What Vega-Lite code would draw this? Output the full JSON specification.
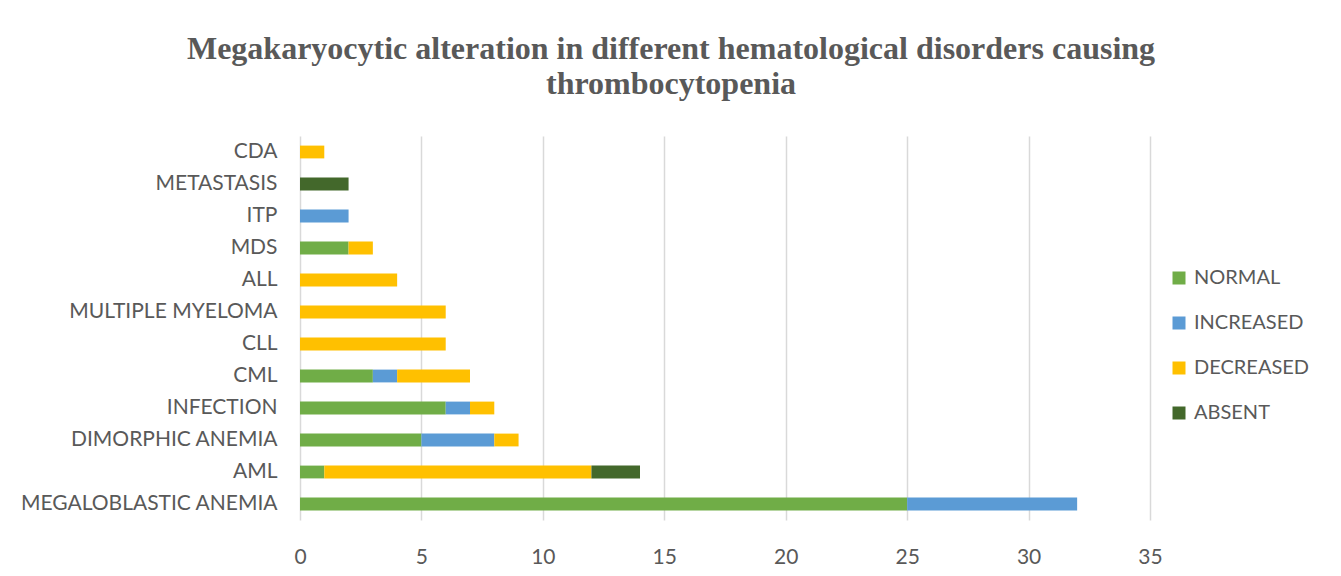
{
  "$schema": "https://vega.github.io/schema/vega-lite/v6.json",
  "autosize": "none",
  "width": 850,
  "height": 384,
  "padding": {"left": 300, "top": 136, "right": 191, "bottom": 56},
  "background": "white",
  "title": {
    "text": ["Megakaryocytic alteration in different hematological disorders causing", "thrombocytopenia"],
    "font": "Liberation Serif",
    "fontSize": 32,
    "fontWeight": "bold",
    "color": "#595959",
    "anchor": "middle",
    "frame": "group",
    "dx": -54,
    "offset": 35,
    "lineHeight": 35
  },
  "data": {
    "values": [
      {"disorder": "CDA", "status": "DECREASED", "count": 1},
      {"disorder": "METASTASIS", "status": "ABSENT", "count": 2},
      {"disorder": "ITP", "status": "INCREASED", "count": 2},
      {"disorder": "MDS", "status": "NORMAL", "count": 2},
      {"disorder": "MDS", "status": "DECREASED", "count": 1},
      {"disorder": "ALL", "status": "DECREASED", "count": 4},
      {"disorder": "MULTIPLE MYELOMA", "status": "DECREASED", "count": 6},
      {"disorder": "CLL", "status": "DECREASED", "count": 6},
      {"disorder": "CML", "status": "NORMAL", "count": 3},
      {"disorder": "CML", "status": "INCREASED", "count": 1},
      {"disorder": "CML", "status": "DECREASED", "count": 3},
      {"disorder": "INFECTION", "status": "NORMAL", "count": 6},
      {"disorder": "INFECTION", "status": "INCREASED", "count": 1},
      {"disorder": "INFECTION", "status": "DECREASED", "count": 1},
      {"disorder": "DIMORPHIC ANEMIA", "status": "NORMAL", "count": 5},
      {"disorder": "DIMORPHIC ANEMIA", "status": "INCREASED", "count": 3},
      {"disorder": "DIMORPHIC ANEMIA", "status": "DECREASED", "count": 1},
      {"disorder": "AML", "status": "NORMAL", "count": 1},
      {"disorder": "AML", "status": "DECREASED", "count": 11},
      {"disorder": "AML", "status": "ABSENT", "count": 2},
      {"disorder": "MEGALOBLASTIC ANEMIA", "status": "NORMAL", "count": 25},
      {"disorder": "MEGALOBLASTIC ANEMIA", "status": "INCREASED", "count": 7}
    ]
  },
  "mark": {"type": "bar"},
  "encoding": {
    "y": {
      "field": "disorder",
      "type": "nominal",
      "sort": ["CDA", "METASTASIS", "ITP", "MDS", "ALL", "MULTIPLE MYELOMA", "CLL", "CML", "INFECTION", "DIMORPHIC ANEMIA", "AML", "MEGALOBLASTIC ANEMIA"],
      "scale": {"paddingInner": 0.6, "paddingOuter": 0.3},
      "axis": {
        "title": null,
        "domain": false,
        "ticks": false,
        "grid": false,
        "labelFont": "Lato",
        "labelFontSize": 21,
        "labelColor": "#595959",
        "labelPadding": 23,
        "labelLimit": 0
      }
    },
    "x": {
      "field": "count",
      "type": "quantitative",
      "stack": "zero",
      "scale": {"domain": [0, 35], "nice": false},
      "axis": {
        "title": null,
        "values": [0, 5, 10, 15, 20, 25, 30, 35],
        "domain": false,
        "ticks": false,
        "grid": true,
        "gridColor": "#D9D9D9",
        "gridWidth": 1.5,
        "labelFont": "Lato",
        "labelFontSize": 21,
        "labelColor": "#595959",
        "labelPadding": 26,
        "labelFlush": false
      }
    },
    "order": {"field": "status", "sort": "descending"},
    "color": {
      "field": "status",
      "type": "nominal",
      "sort": ["NORMAL", "INCREASED", "DECREASED", "ABSENT"],
      "scale": {
        "domain": ["NORMAL", "INCREASED", "DECREASED", "ABSENT"],
        "range": ["#70AD47", "#5B9BD5", "#FFC000", "#43682B"]
      },
      "legend": {
        "title": null,
        "orient": "none",
        "legendX": 869,
        "legendY": 132,
        "symbolType": "square",
        "symbolSize": 169,
        "symbolStrokeWidth": 0,
        "labelFont": "Lato",
        "labelFontSize": 20,
        "labelColor": "#595959",
        "labelOffset": 5,
        "labelLimit": 0,
        "rowPadding": 25
      }
    }
  },
  "config": {"view": {"stroke": null}}
}
